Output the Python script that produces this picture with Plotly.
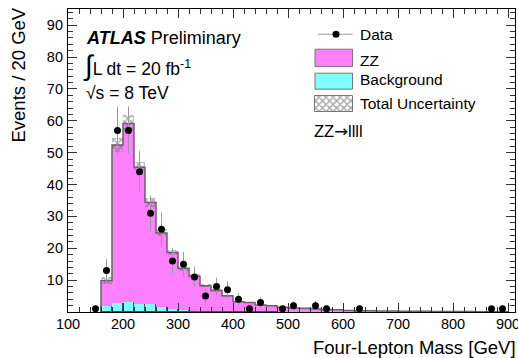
import plotly.graph_objects as go

# ---------------- data ----------------
bin_left = [160, 180, 200, 220, 240, 260, 280, 300, 320, 340, 360, 380, 400, 420, 440, 460,
            480, 500, 520, 540, 560, 580, 600, 620, 640, 660, 680, 700, 720, 740, 760, 780,
            800, 820, 840, 860, 880]
zz_vals = [8.0, 49.6, 56.2, 42.8, 31.8, 23.2, 17.8, 13.2, 10.8, 7.8, 6.4, 4.8, 3.0, 2.8, 2.0, 1.8,
           1.35, 1.13, 1.1, 0.86, 0.72, 0.63, 0.39, 0.35, 0.31, 0.26, 0.25, 0.22, 0.19, 0.18, 0.16, 0.14,
           0.12, 0.11, 0.10, 0.09, 0.08]
bkg_vals = [1.8, 2.8, 3.0, 2.6, 2.6, 1.6, 0.9, 0.5, 0.45, 0.4, 0.35, 0.3, 0.25, 0.22, 0.2, 0.18,
            0.15, 0.12, 0.1, 0.09, 0.08, 0.07, 0.06, 0.05, 0.05, 0.04, 0.03, 0.03, 0.03, 0.02, 0.02, 0.02,
            0.02, 0.02, 0.01, 0.01, 0.01]
unc_vals = [1.1, 2.2, 2.5, 1.8, 1.5, 1.1, 0.9, 0.7, 0.6, 0.45, 0.4, 0.3, 0.2, 0.2, 0.15, 0.13,
            0.1, 0.09, 0.08, 0.07, 0.06, 0.05, 0.04, 0.04, 0.03, 0.03, 0.03, 0.02, 0.02, 0.02, 0.02, 0.02,
            0.02, 0.01, 0.01, 0.01, 0.01]
data_x = [150, 170, 190, 210, 230, 250, 270, 290, 310, 330, 350, 370, 390, 410, 430, 450,
          490, 510, 550, 570, 630, 870, 890]
data_y = [1, 13, 57, 57, 44, 31, 26, 16, 15, 11, 5, 8, 7, 4, 1, 3,
          1, 2, 2, 1, 1, 1, 1]
data_err = [1.0, 3.6, 7.5, 7.5, 6.6, 5.6, 5.1, 4.0, 3.9, 3.3, 2.2, 2.8, 2.6, 2.0, 1.0, 1.7,
            1.0, 1.4, 1.4, 1.0, 1.0, 1.0, 1.0]
x_ticks = [100, 200, 300, 400, 500, 600, 700, 800, 900]
y_ticks = [10, 20, 30, 40, 50, 60, 70, 80, 90]

BW = 20
FONT = "Liberation Sans, Arial, Helvetica, sans-serif"
PINK = "#ff80ff"
CYAN = "#80ffff"
HATCH = dict(shape="x", size=5, solidity=0.55, fgcolor="#606060", fillmode="overlay")

centers = [b + BW / 2 for b in bin_left]
total = [z + b for z, b in zip(zz_vals, bkg_vals)]
unc_lo = [t - u for t, u in zip(total, unc_vals)]
unc_h = [2 * u for u in unc_vals]

fig = go.Figure()

fig.add_trace(go.Bar(x=centers, y=bkg_vals, width=BW, base=0,
                     marker=dict(color=CYAN, line=dict(color="#3d5555", width=1)),
                     showlegend=False))
fig.add_trace(go.Bar(x=centers, y=zz_vals, width=BW, base=bkg_vals,
                     marker=dict(color=PINK, line=dict(width=0)),
                     showlegend=False))
# outline of the stacked histogram
step_x = [bin_left[0]] + bin_left + [bin_left[-1] + BW]
step_y = [0] + total + [0]
fig.add_trace(go.Scatter(x=step_x, y=step_y, mode="lines", line_shape="hv",
                         line=dict(color="#666666", width=1.5), showlegend=False))
# uncertainty band
fig.add_trace(go.Bar(x=centers, y=unc_h, width=BW, base=unc_lo,
                     marker=dict(color="rgba(0,0,0,0)", line=dict(width=0), pattern=HATCH),
                     showlegend=False))
# data
fig.add_trace(go.Scatter(x=data_x, y=data_y, mode="markers",
                         marker=dict(color="black", size=7),
                         error_y=dict(type="data", array=data_err, color="#9a9a9a",
                                      thickness=1, width=0),
                         showlegend=False))

# ---------------- manual legend (paper coords via overlay axes) ----------------
def px_x(p):
    return (p - 68) / 447.0

def px_y(p):
    return (312.5 - p) / 303.5

fig.add_trace(go.Scatter(x=[px_x(318), px_x(352.5)], y=[px_y(34.3)] * 2, mode="lines",
                         line=dict(color="#9a9a9a", width=1), xaxis="x2", yaxis="y2",
                         showlegend=False, hoverinfo="skip"))
fig.add_trace(go.Scatter(x=[px_x(336)], y=[px_y(34.3)], mode="markers",
                         marker=dict(color="black", size=7), xaxis="x2", yaxis="y2",
                         showlegend=False, hoverinfo="skip"))
fig.add_trace(go.Bar(x=[(px_x(315) + px_x(352.5)) / 2], y=[px_y(96) - px_y(111.7)],
                     base=[px_y(111.7)], width=[px_x(352.5) - px_x(315)],
                     marker=dict(color="white", line=dict(color="#777777", width=1),
                                 pattern=HATCH),
                     xaxis="x2", yaxis="y2", showlegend=False, hoverinfo="skip"))

shapes = [
    dict(type="rect", xref="paper", yref="paper", x0=px_x(315), x1=px_x(352.5),
         y0=px_y(66.7), y1=px_y(49.3), fillcolor=PINK, line=dict(color="#777777", width=1)),
    dict(type="rect", xref="paper", yref="paper", x0=px_x(315), x1=px_x(352.5),
         y0=px_y(89.3), y1=px_y(73.3), fillcolor=CYAN, line=dict(color="#777777", width=1)),
]

LEG = 15.5
annotations = [
    dict(text="Data", x=px_x(358), y=px_y(34.3)),
    dict(text="ZZ", x=px_x(358), y=px_y(60.7)),
    dict(text="Background", x=px_x(358), y=px_y(80)),
    dict(text="Total Uncertainty", x=px_x(358), y=px_y(103.3)),
]
for a in annotations:
    a.update(xref="paper", yref="paper", xanchor="left", yanchor="middle", showarrow=False,
             font=dict(family=FONT, size=LEG, color="black"))

annotations += [
    dict(text="ZZ<span style='font-family:DejaVu Sans'>\u2192</span>llll",
         x=px_x(312), y=px_y(132), xref="paper", yref="paper",
         xanchor="left", yanchor="middle", showarrow=False,
         font=dict(family=FONT, size=16.5, color="black")),
    dict(text="<b><i>ATLAS</i></b> Preliminary", x=px_x(84), y=px_y(37.7), xref="paper",
         yref="paper", xanchor="left", yanchor="middle", showarrow=False,
         font=dict(family=FONT, size=18, color="black")),
    dict(text="<span style='font-size:28px'>\u222b</span>L dt = 20 fb<sup>-1</sup>",
         x=px_x(81), y=px_y(66), xref="paper", yref="paper", xanchor="left",
         yanchor="middle", showarrow=False, font=dict(family=FONT, size=17.5, color="black")),
    dict(text="\u221as = 8 TeV", x=px_x(84), y=px_y(93), xref="paper", yref="paper",
         xanchor="left", yanchor="middle", showarrow=False,
         font=dict(family=FONT, size=17.5, color="black")),
    dict(text="Events / 20 GeV", textangle=-90, x=px_x(19), y=px_y(6), xref="paper",
         yref="paper", xanchor="center", yanchor="top", showarrow=False,
         font=dict(family=FONT, size=18.5, color="black")),
    dict(text="Four-Lepton Mass [GeV]", x=px_x(518), y=px_y(348), xref="paper",
         yref="paper", xanchor="right", yanchor="middle", showarrow=False,
         font=dict(family=FONT, size=18.5, color="black")),
]

fig.update_layout(
    width=518, height=358,
    margin=dict(l=68, r=3, t=9, b=45.5, autoexpand=False),
    paper_bgcolor="white", plot_bgcolor="white",
    barmode="overlay", bargap=0,
    showlegend=False,
    font=dict(family=FONT, color="black"),
    shapes=shapes,
    annotations=annotations,
    xaxis=dict(range=[100, 912.7], tickmode="array", tickvals=x_ticks,
               ticks="inside", ticklen=9, tickwidth=1, tickcolor="#333",
               minor=dict(dtick=20, tick0=100, ticks="inside", ticklen=4.5, tickcolor="#333"),
               showline=True, linecolor="black", linewidth=1.2, mirror="allticks",
               showgrid=False, zeroline=False, automargin=False,
               ticklabeloverflow="allow",
               tickfont=dict(family=FONT, size=14.5, color="black"),
               ticklabelstandoff=-2),
    yaxis=dict(range=[0, 95.1], tickmode="array", tickvals=y_ticks,
               ticks="inside", ticklen=9, tickwidth=1, tickcolor="#333",
               minor=dict(dtick=2, tick0=0, ticks="inside", ticklen=4.5, tickcolor="#333"),
               showline=True, linecolor="black", linewidth=1.2, mirror="allticks",
               showgrid=False, zeroline=False, automargin=False,
               ticklabeloverflow="allow",
               tickfont=dict(family=FONT, size=14.5, color="black"),
               ticklabelstandoff=1),
    xaxis2=dict(domain=[0, 1], range=[0, 1], overlaying="x", anchor="y2", visible=False),
    yaxis2=dict(domain=[0, 1], range=[0, 1], overlaying="y", anchor="x2", visible=False),
)

fig.write_html("out.html", config={"displayModeBar": False},
               post_script="document.body.style.margin='0';document.body.style.padding='0';")
